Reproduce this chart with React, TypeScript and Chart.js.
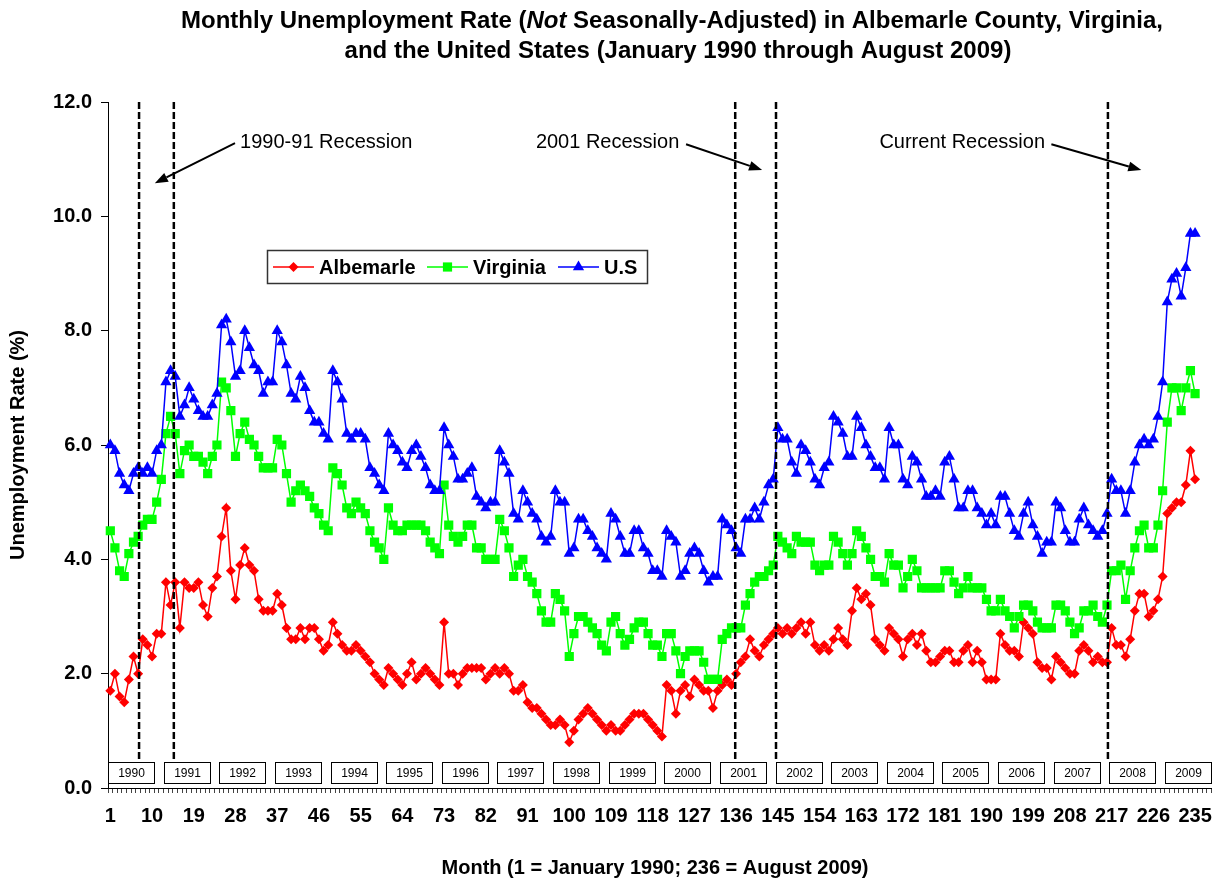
import React, { useEffect, useRef } from 'react';
import { Chart, registerables } from 'chart.js';

Chart.register(...registerables);

const FAMILY = '"Liberation Sans", Arial, Helvetica, sans-serif';

// Category axis: months 1..238 (tick labels every 9 months)
const monthLabels: string[] = Array.from({ length: 238 }, (_, i) => String(i + 1));
const yearLabels = ['1990','1991','1992','1993','1994','1995','1996','1997','1998','1999',
  '2000','2001','2002','2003','2004','2005','2006','2007','2008','2009'];

// Recession markers, in months (1 = January 1990)
const recessionMonths = [7.2, 14.7, 135.8, 144.6, 216.2];

const albemarle = [
  1.7, 2.0, 1.6, 1.5, 1.9, 2.3, 2.0, 2.6, 2.5, 2.3, 2.7, 2.7,
  3.6, 3.2, 3.6, 2.8, 3.6, 3.5, 3.5, 3.6, 3.2, 3.0, 3.5, 3.7,
  4.4, 4.9, 3.8, 3.3, 3.9, 4.2, 3.9, 3.8, 3.3, 3.1, 3.1, 3.1,
  3.4, 3.2, 2.8, 2.6, 2.6, 2.8, 2.6, 2.8, 2.8, 2.6, 2.4, 2.5,
  2.9, 2.7, 2.5, 2.4, 2.4, 2.5, 2.4, 2.3, 2.2, 2.0, 1.9, 1.8,
  2.1, 2.0, 1.9, 1.8, 2.0, 2.2, 1.9, 2.0, 2.1, 2.0, 1.9, 1.8,
  2.9, 2.0, 2.0, 1.8, 2.0, 2.1, 2.1, 2.1, 2.1, 1.9, 2.0, 2.1,
  2.0, 2.1, 2.0, 1.7, 1.7, 1.8, 1.5, 1.4, 1.4, 1.3, 1.2, 1.1,
  1.1, 1.2, 1.1, 0.8, 1.0, 1.2, 1.3, 1.4, 1.3, 1.2, 1.1, 1.0,
  1.1, 1.0, 1.0, 1.1, 1.2, 1.3, 1.3, 1.3, 1.2, 1.1, 1.0, 0.9,
  1.8, 1.7, 1.3, 1.7, 1.8, 1.6, 1.9, 1.8, 1.7, 1.7, 1.4, 1.7,
  1.8, 1.9, 1.8, 2.0, 2.2, 2.3, 2.6, 2.4, 2.3, 2.5, 2.6, 2.7,
  2.8, 2.7, 2.8, 2.7, 2.8, 2.9, 2.7, 2.9, 2.5, 2.4, 2.5, 2.4,
  2.6, 2.8, 2.6, 2.5, 3.1, 3.5, 3.3, 3.4, 3.2, 2.6, 2.5, 2.4,
  2.8, 2.7, 2.6, 2.3, 2.6, 2.7, 2.5, 2.7, 2.4, 2.2, 2.2, 2.3,
  2.4, 2.4, 2.2, 2.2, 2.4, 2.5, 2.2, 2.4, 2.2, 1.9, 1.9, 1.9,
  2.7, 2.5, 2.4, 2.4, 2.3, 2.9, 2.8, 2.7, 2.2, 2.1, 2.1, 1.9,
  2.3, 2.2, 2.1, 2.0, 2.0, 2.4, 2.5, 2.4, 2.2, 2.3, 2.2, 2.2,
  2.8, 2.5, 2.5, 2.3, 2.6, 3.1, 3.4, 3.4, 3.0, 3.1, 3.3, 3.7,
  4.8, 4.9, 5.0, 5.0, 5.3, 5.9, 5.4,
];

const virginia = [
  4.5, 4.2, 3.8, 3.7, 4.1, 4.3, 4.4, 4.6, 4.7, 4.7, 5.0, 5.4,
  6.2, 6.5, 6.2, 5.5, 5.9, 6.0, 5.8, 5.8, 5.7, 5.5, 5.8, 6.0,
  7.1, 7.0, 6.6, 5.8, 6.2, 6.4, 6.1, 6.0, 5.8, 5.6, 5.6, 5.6,
  6.1, 6.0, 5.5, 5.0, 5.2, 5.3, 5.2, 5.1, 4.9, 4.8, 4.6, 4.5,
  5.6, 5.5, 5.3, 4.9, 4.8, 5.0, 4.9, 4.8, 4.5, 4.3, 4.2, 4.0,
  4.9, 4.6, 4.5, 4.5, 4.6, 4.6, 4.6, 4.6, 4.5, 4.3, 4.2, 4.1,
  5.3, 4.6, 4.4, 4.3, 4.4, 4.6, 4.6, 4.2, 4.2, 4.0, 4.0, 4.0,
  4.7, 4.5, 4.2, 3.7, 3.9, 4.0, 3.7, 3.6, 3.4, 3.1, 2.9, 2.9,
  3.4, 3.3, 3.1, 2.3, 2.7, 3.0, 3.0, 2.9, 2.8, 2.7, 2.5, 2.4,
  2.9, 3.0, 2.7, 2.5, 2.6, 2.8, 2.9, 2.9, 2.7, 2.5, 2.5, 2.3,
  2.7, 2.7, 2.4, 2.0, 2.3, 2.4, 2.4, 2.4, 2.2, 1.9, 1.9, 1.9,
  2.6, 2.7, 2.8, 2.8, 2.8, 3.2, 3.4, 3.6, 3.7, 3.7, 3.8, 3.9,
  4.4, 4.3, 4.2, 4.1, 4.4, 4.3, 4.3, 4.3, 3.9, 3.8, 3.9, 3.9,
  4.4, 4.3, 4.1, 3.9, 4.1, 4.5, 4.4, 4.2, 4.0, 3.7, 3.7, 3.6,
  4.1, 3.9, 3.9, 3.5, 3.7, 4.0, 3.8, 3.5, 3.5, 3.5, 3.5, 3.5,
  3.8, 3.8, 3.6, 3.4, 3.5, 3.7, 3.5, 3.5, 3.5, 3.3, 3.1, 3.1,
  3.3, 3.1, 3.0, 2.8, 3.0, 3.2, 3.2, 3.1, 2.9, 2.8, 2.8, 2.8,
  3.2, 3.2, 3.1, 2.9, 2.7, 2.8, 3.1, 3.1, 3.2, 3.0, 2.9, 3.2,
  3.8, 3.8, 3.9, 3.3, 3.8, 4.2, 4.5, 4.6, 4.2, 4.2, 4.6, 5.2,
  6.4, 7.0, 7.0, 6.6, 7.0, 7.3, 6.9,
];

const unitedStates = [
  6.0, 5.9, 5.5, 5.3, 5.2, 5.5, 5.6, 5.5, 5.6, 5.5, 5.9, 6.0,
  7.1, 7.3, 7.2, 6.5, 6.7, 7.0, 6.8, 6.6, 6.5, 6.5, 6.7, 6.9,
  8.1, 8.2, 7.8, 7.2, 7.3, 8.0, 7.7, 7.4, 7.3, 6.9, 7.1, 7.1,
  8.0, 7.8, 7.4, 6.9, 6.8, 7.2, 7.0, 6.6, 6.4, 6.4, 6.2, 6.1,
  7.3, 7.1, 6.8, 6.2, 6.1, 6.2, 6.2, 6.1, 5.6, 5.5, 5.3, 5.2,
  6.2, 6.0, 5.9, 5.7, 5.6, 5.9, 6.0, 5.8, 5.6, 5.3, 5.2, 5.2,
  6.3, 6.0, 5.8, 5.4, 5.4, 5.5, 5.6, 5.1, 5.0, 4.9, 5.0, 5.0,
  5.9, 5.7, 5.5, 4.8, 4.7, 5.2, 5.0, 4.8, 4.7, 4.4, 4.3, 4.4,
  5.2, 5.0, 5.0, 4.1, 4.2, 4.7, 4.7, 4.5, 4.4, 4.2, 4.1, 4.0,
  4.8, 4.7, 4.4, 4.1, 4.1, 4.5, 4.5, 4.2, 4.1, 3.8, 3.8, 3.7,
  4.5, 4.4, 4.3, 3.7, 3.8, 4.1, 4.2, 4.1, 3.8, 3.6, 3.7, 3.7,
  4.7, 4.6, 4.5, 4.2, 4.1, 4.7, 4.7, 4.9, 4.7, 5.0, 5.3, 5.4,
  6.3, 6.1, 6.1, 5.7, 5.5, 6.0, 5.9, 5.7, 5.4, 5.3, 5.6, 5.7,
  6.5, 6.4, 6.2, 5.8, 5.8, 6.5, 6.3, 6.0, 5.8, 5.6, 5.6, 5.4,
  6.3, 6.0, 6.0, 5.4, 5.3, 5.8, 5.7, 5.4, 5.1, 5.1, 5.2, 5.1,
  5.7, 5.8, 5.4, 4.9, 4.9, 5.2, 5.2, 4.9, 4.8, 4.6, 4.8, 4.6,
  5.1, 5.1, 4.8, 4.5, 4.4, 4.8, 5.0, 4.6, 4.4, 4.1, 4.3, 4.3,
  5.0, 4.9, 4.5, 4.3, 4.3, 4.7, 4.9, 4.6, 4.5, 4.4, 4.5, 4.8,
  5.4, 5.2, 5.2, 4.8, 5.2, 5.7, 6.0, 6.1, 6.0, 6.1, 6.5, 7.1,
  8.5, 8.9, 9.0, 8.6, 9.1, 9.7, 9.7,
];

// Annotation anchors in data units: [month, rate]
const annotations = [
  { text: '1990-91 Recession', at: [29.0, 11.3], from: [27.9, 11.28], to: [10.6, 10.58] },
  { text: '2001 Recession', at: [92.8, 11.3], from: [125.2, 11.26], to: [141.6, 10.81] },
  { text: 'Current Recession', at: [166.9, 11.3], from: [204.0, 11.26], to: [223.4, 10.81] },
];

const seriesNames = ['Albemarle', 'Virginia', 'U.S'];
const seriesColors = ['#FF0000', '#00FF00', '#0000FF'];
const seriesMarkers = ['rectRot', 'rect', 'triangle'];

function drawMarker(ctx: CanvasRenderingContext2D, style: string, x: number, y: number, color: string) {
  ctx.save();
  ctx.fillStyle = color;
  ctx.beginPath();
  if (style === 'rectRot') {
    const r = 5;
    ctx.moveTo(x - r, y); ctx.lineTo(x, y - r); ctx.lineTo(x + r, y); ctx.lineTo(x, y + r);
  } else if (style === 'rect') {
    const s = 4.6;
    ctx.rect(x - s, y - s, 2 * s, 2 * s);
  } else {
    const r = 6.5;
    ctx.moveTo(x, y - r);
    ctx.lineTo(x + r * Math.sin(2 * Math.PI / 3), y + r * 0.5);
    ctx.lineTo(x - r * Math.sin(2 * Math.PI / 3), y + r * 0.5);
  }
  ctx.closePath();
  ctx.fill();
  ctx.restore();
}

function drawArrow(ctx: CanvasRenderingContext2D, x1: number, y1: number, x2: number, y2: number) {
  const ang = Math.atan2(y2 - y1, x2 - x1);
  const len = 13, half = 5;
  const bx = x2 - len * Math.cos(ang), by = y2 - len * Math.sin(ang);
  ctx.save();
  ctx.strokeStyle = '#000';
  ctx.fillStyle = '#000';
  ctx.lineWidth = 2;
  ctx.setLineDash([]);
  ctx.beginPath();
  ctx.moveTo(x1, y1);
  ctx.lineTo(bx, by);
  ctx.stroke();
  ctx.beginPath();
  ctx.moveTo(x2, y2);
  ctx.lineTo(bx + half * Math.sin(ang), by - half * Math.cos(ang));
  ctx.lineTo(bx - half * Math.sin(ang), by + half * Math.cos(ang));
  ctx.closePath();
  ctx.fill();
  ctx.restore();
}

const overlayPlugin = {
  id: 'overlay',
  afterDraw(chart: any) {
    const { ctx, chartArea } = chart;
    const xs = chart.scales.x;
    const ys = chart.scales.y;
    const mx = (m: number) => xs.getPixelForValue(m - 1);
    ctx.save();

    // Title
    ctx.textBaseline = 'middle';
    ctx.textAlign = 'left';
    ctx.fillStyle = '#000';
    const parts: [string, boolean][] = [
      ['Monthly Unemployment Rate (', false],
      ['Not', true],
      [' Seasonally-Adjusted) in Albemarle County, Virginia,', false],
    ];
    const tf = (it: boolean) => `${it ? 'italic ' : ''}bold 24px ${FAMILY}`;
    let total = 0;
    parts.forEach(([t, it]) => { ctx.font = tf(it); total += ctx.measureText(t).width; });
    let tx = 672 - total / 2;
    parts.forEach(([t, it]) => { ctx.font = tf(it); ctx.fillText(t, tx, 21); tx += ctx.measureText(t).width; });
    ctx.textAlign = 'center';
    ctx.font = tf(false);
    ctx.fillText('and the United States (January 1990 through August 2009)', 678, 51);

    // X axis title
    ctx.font = `bold 20px ${FAMILY}`;
    ctx.fillText('Month (1 = January 1990; 236 = August 2009)', 655, 868);

    // Recession dashed lines
    const boxTop = chartArea.bottom - 26;
    ctx.strokeStyle = '#000';
    ctx.lineWidth = 2.5;
    ctx.setLineDash([7, 3]);
    recessionMonths.forEach((m) => {
      const px = mx(m);
      ctx.beginPath();
      ctx.moveTo(px, chartArea.top);
      ctx.lineTo(px, boxTop);
      ctx.stroke();
    });
    ctx.setLineDash([]);

    // Year boxes
    const step = xs.getPixelForValue(1) - xs.getPixelForValue(0);
    ctx.lineWidth = 1;
    ctx.font = `12px ${FAMILY}`;
    ctx.textAlign = 'center';
    ctx.textBaseline = 'middle';
    yearLabels.forEach((yr, k) => {
      const left = Math.round(xs.getPixelForValue(12 * k - 0.5)) + 0.5;
      const w = Math.round(10 * step);
      ctx.fillStyle = '#fff';
      ctx.fillRect(left, boxTop + 0.5, w, 21);
      ctx.strokeStyle = '#000';
      ctx.strokeRect(left, boxTop + 0.5, w, 21);
      ctx.fillStyle = '#000';
      ctx.fillText(yr, left + w / 2, boxTop + 11.5);
    });

    // Annotations with arrows
    ctx.font = `20px ${FAMILY}`;
    ctx.textAlign = 'left';
    ctx.textBaseline = 'middle';
    annotations.forEach((a) => {
      ctx.fillStyle = '#000';
      ctx.fillText(a.text, mx(a.at[0]), ys.getPixelForValue(a.at[1]));
      drawArrow(ctx, mx(a.from[0]), ys.getPixelForValue(a.from[1]), mx(a.to[0]), ys.getPixelForValue(a.to[1]));
    });

    // Legend
    ctx.fillStyle = '#fff';
    ctx.fillRect(267.5, 250.5, 380, 33);
    ctx.strokeStyle = '#333';
    ctx.lineWidth = 1.5;
    ctx.strokeRect(267.5, 250.5, 380, 33);
    const legendX = [273, 427, 558];
    ctx.font = `bold 20px ${FAMILY}`;
    seriesNames.forEach((name, i) => {
      const lx = legendX[i];
      const ly = 267;
      ctx.strokeStyle = seriesColors[i];
      ctx.lineWidth = 1.5;
      ctx.beginPath();
      ctx.moveTo(lx, ly);
      ctx.lineTo(lx + 41, ly);
      ctx.stroke();
      drawMarker(ctx, seriesMarkers[i], lx + 20.5, ly, seriesColors[i]);
      ctx.fillStyle = '#000';
      ctx.textAlign = 'left';
      ctx.fillText(name, lx + 46, ly + 1);
    });

    ctx.restore();
  },
};

export default function App() {
  const ref = useRef<HTMLCanvasElement>(null);

  useEffect(() => {
    const canvas = ref.current;
    if (!canvas) return;
    const tickFont = { family: FAMILY, size: 20, weight: 'bold' as const };
    const mk = (label: string, data: number[], color: string, style: string, radius: number, order: number) => ({
      label,
      data,
      borderColor: color,
      backgroundColor: color,
      pointBackgroundColor: color,
      pointBorderColor: color,
      borderWidth: 1.5,
      pointStyle: style,
      pointRadius: radius,
      pointBorderWidth: 0,
      pointHoverRadius: radius,
      tension: 0,
      fill: false,
      order,
    });
    const chart = new Chart(canvas, {
      type: 'line',
      data: {
        labels: monthLabels,
        datasets: [
          mk(seriesNames[0], albemarle, seriesColors[0], seriesMarkers[0], 5, 3),
          mk(seriesNames[1], virginia, seriesColors[1], seriesMarkers[1], 6.5, 2),
          mk(seriesNames[2], unitedStates, seriesColors[2], seriesMarkers[2], 6.5, 1),
        ],
      },
      options: {
        responsive: false,
        animation: false,
        devicePixelRatio: 1,
        layout: { padding: { top: 102, right: 8, left: 0, bottom: 0 } },
        plugins: {
          legend: { display: false },
          tooltip: { enabled: false },
          title: { display: false },
        },
        events: [],
        scales: {
          x: {
            type: 'category',
            offset: true,
            grid: {
              display: true,
              drawOnChartArea: false,
              drawTicks: true,
              tickLength: 5,
              color: '#444',
              offset: true,
              lineWidth: 1,
            },
            border: { display: true, color: '#000', width: 1 },
            ticks: {
              autoSkip: false,
              maxRotation: 0,
              minRotation: 0,
              padding: 11,
              color: '#000',
              font: tickFont,
              callback: (_v: any, i: number) => (i % 9 === 0 ? monthLabels[i] : ''),
            },
            afterFit: (s: any) => { s.height = 94; },
          },
          y: {
            min: 0,
            max: 12,
            grid: { drawOnChartArea: false, tickLength: 7, color: '#000', lineWidth: 1 },
            border: { display: true, color: '#000', width: 1 },
            ticks: {
              stepSize: 2,
              padding: 9,
              color: '#000',
              font: tickFont,
              callback: (v: any) => Number(v).toFixed(1),
            },
            title: {
              display: true,
              text: 'Unemployment Rate (%)',
              color: '#000',
              font: { family: FAMILY, size: 20, weight: 'bold' },
              padding: { top: 6, bottom: 0 },
            },
            afterFit: (s: any) => { s.width = 108; },
          },
        },
      } as any,
      plugins: [overlayPlugin],
    });
    return () => chart.destroy();
  }, []);

  return (
    <div style={{ position: 'fixed', left: 0, top: 0, width: 1220, height: 882, background: '#fff' }}>
      <canvas ref={ref} width={1220} height={882} style={{ display: 'block' }} />
    </div>
  );
}
